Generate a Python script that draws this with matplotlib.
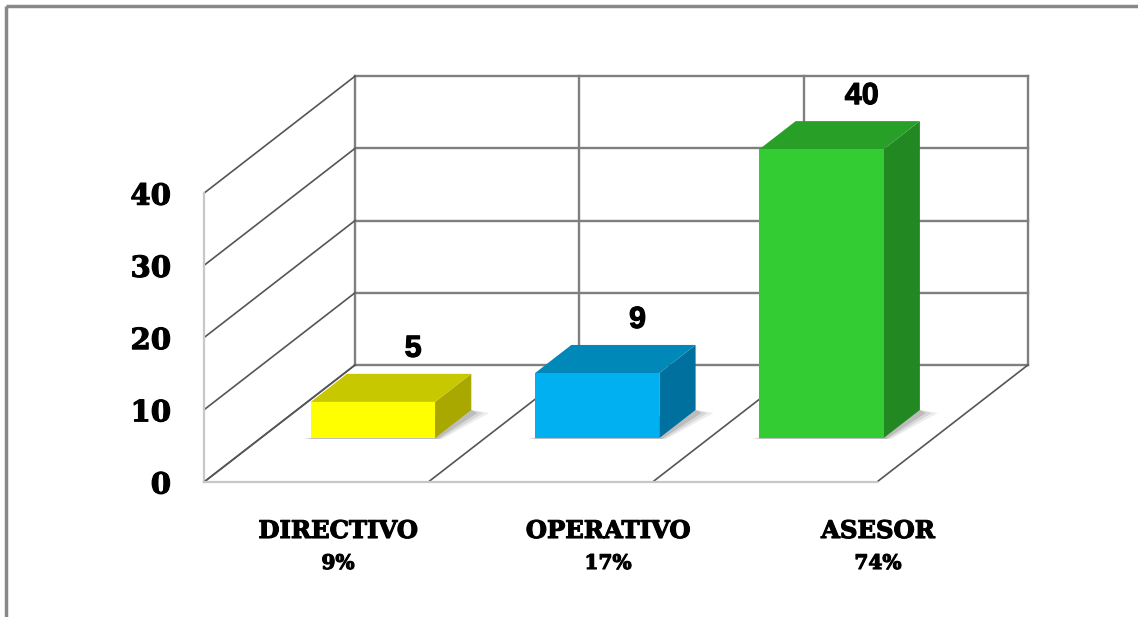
import numpy as np
import matplotlib
matplotlib.use("Agg")
import matplotlib.pyplot as plt
import matplotlib.patheffects as pe
from matplotlib.patches import Polygon

# data
categories = ["DIRECTIVO", "OPERATIVO", "ASESOR"]
values = [5, 9, 40]
percents = ["9%", "17%", "74%"]
yticks = [0, 10, 20, 30, 40]

front_colors = ["#FFFF00", "#00B0F0", "#33CC33"]
top_colors = ["#C8C800", "#0088B8", "#28A028"]
side_colors = ["#A8A800", "#00709E", "#228822"]

# oblique projection of the 3d box into pixel space
X0, Y0 = 204, 482          # front-left corner of the floor
CAT_W = 224.3              # width of one category
UNIT = 7.22                # pixels per unit of value
DX, DY = 151, -117         # offset of the full depth


def proj(u, v, d):
    return (X0 + u * CAT_W + d * DX, Y0 - v * UNIT + d * DY)


fig = plt.figure(figsize=(11.38, 6.17), dpi=100)
ax = fig.add_axes([0, 0, 1, 1])
ax.set_xlim(0, 1138)
ax.set_ylim(617, 0)
ax.axis("off")

# outer chart border (top and left visible)
ax.plot([6, 1138], [6, 6], color="#888888", lw=2.5, solid_capstyle="butt")
ax.plot([6, 6], [6, 617], color="#888888", lw=2.5, solid_capstyle="butt")

ncat = len(categories)
vmax = yticks[-1]


def line(p, q, **kw):
    ax.plot([p[0], q[0]], [p[1], q[1]], **kw)


wall = dict(color="#7f7f7f", lw=1.7, zorder=1)
diag = dict(color="#555555", lw=1.2, zorder=1)
light = dict(color="#c8c8c8", lw=1.6, zorder=1)

# back wall gridlines
for t in yticks:
    line(proj(0, t, 1), proj(ncat, t, 1), **wall)
for u in range(ncat + 1):
    line(proj(u, 0, 1), proj(u, vmax, 1), **wall)

# left wall
for t in yticks:
    line(proj(0, t, 0), proj(0, t, 1), **diag)
line(proj(0, 0, 0), proj(0, vmax, 0), **light)

# floor
for u in range(ncat + 1):
    line(proj(u, 0, 0), proj(u, 0, 1), **diag)
line(proj(0, 0, 0), proj(ncat, 0, 0), **light)

heavy = [pe.withStroke(linewidth=0.8, foreground="black")]

# bars
half_w = 0.277
d0, d1 = 0.376, 0.616
for i, val in enumerate(values):
    u0, u1 = i + 0.5 - half_w, i + 0.5 + half_w

    # soft shadow on the floor, to the right of the bar
    for k, a in zip([18, 12, 6], [0.07, 0.09, 0.12]):
        p0 = proj(u0, 0, d0)
        p1 = proj(u1, 0, d0)
        p2 = proj(u1, 0, d1)
        shadow = [(p0[0] - k * 0.5, p0[1] + 1), (p1[0] + k * 0.4, p1[1] + 1),
                  (p2[0] + k, p2[1] + 3), (p2[0], p2[1])]
        ax.add_patch(Polygon(shadow, closed=True, color="black", alpha=a,
                             lw=0, zorder=2))

    front = [proj(u0, 0, d0), proj(u1, 0, d0), proj(u1, val, d0), proj(u0, val, d0)]
    top = [proj(u0, val, d0), proj(u1, val, d0), proj(u1, val, d1), proj(u0, val, d1)]
    side = [proj(u1, 0, d0), proj(u1, 0, d1), proj(u1, val, d1), proj(u1, val, d0)]
    ax.add_patch(Polygon(side, closed=True, facecolor=side_colors[i], lw=0, zorder=3))
    ax.add_patch(Polygon(top, closed=True, facecolor=top_colors[i], lw=0, zorder=3))
    ax.add_patch(Polygon(front, closed=True, facecolor=front_colors[i], lw=0, zorder=4))

    # value label above the bar
    lx, ly = proj(i + 0.5, val, d1)
    ax.text(lx + 4, ly - 25, str(val), ha="center", va="center",
            fontsize=22, fontweight="bold", family="Liberation Sans", zorder=5,
            path_effects=heavy)

# value axis labels on the front edge
for t in yticks:
    x, y = proj(0, t, 0)
    ax.text(x - 33, y + 3, str(t), ha="right", va="center", fontsize=21,
            fontweight="bold", family="DejaVu Serif", path_effects=heavy)

# category labels with percentages
for i, (cat, pct) in enumerate(zip(categories, percents)):
    cx = 338 + 270 * i
    ax.text(cx, 531, cat, ha="center", va="center", fontsize=17.5,
            fontweight="bold", family="DejaVu Serif", path_effects=heavy)
    ax.text(cx, 563, pct, ha="center", va="center", fontsize=14.5,
            fontweight="bold", family="DejaVu Serif", path_effects=heavy)

fig.savefig("out.png", dpi=100, facecolor="white")
